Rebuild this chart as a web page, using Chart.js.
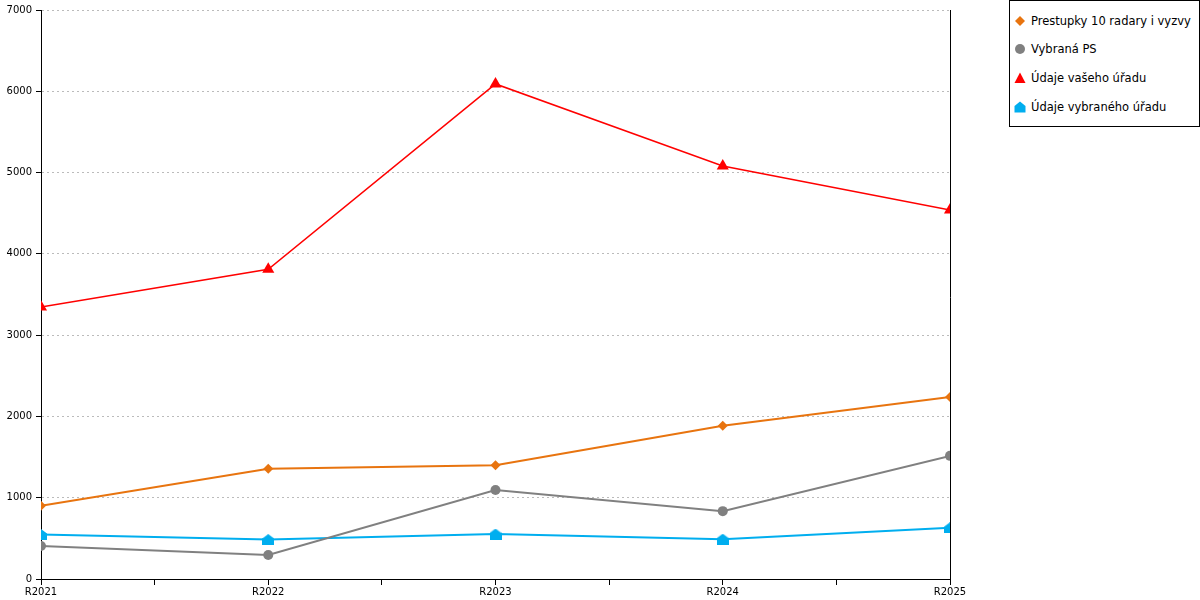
<!DOCTYPE html>
<html>
<head>
<meta charset="utf-8">
<script src="https://cdn.jsdelivr.net/npm/chart.js@4.4.1/dist/chart.umd.min.js"></script>
<style>
html,body{margin:0;padding:0;background:#fff;}
#wrap{position:relative;width:1200px;height:600px;}
#legend{position:absolute;left:1009px;top:0;width:189px;height:125px;border:1px solid #000;background:#fff;font-family:'DejaVu Sans',sans-serif;font-size:11.5px;color:#000;}
.item{position:absolute;left:4px;height:16px;line-height:16px;white-space:nowrap;}
.item svg{position:absolute;left:0;top:2px;}
.item span{position:absolute;left:17px;top:0;}
</style>
</head>
<body>
<div id="wrap">
<canvas id="c" width="1200" height="600"></canvas>
<div id="legend"></div>
</div>
<script>
const categories = ['R2021', 'R2022', 'R2023', 'R2024', 'R2025'];
const seriesNames = ['Prestupky 10 radary i vyzvy', 'Vybraná PS', 'Údaje vašeho úřadu', 'Údaje vybraného úřadu'];
const prestupky = [900, 1355, 1400, 1885, 2240];
const vybranaPS = [405, 295, 1095, 835, 1515];
const vasUrad = [3345, 3810, 6090, 5080, 4540];
const vybranyUrad = [548, 485, 553, 490, 630];
const yTicks = [0, 1000, 2000, 3000, 4000, 5000, 6000, 7000];

const colors = ['#E8740F', '#808080', '#FF0000', '#00AEEF'];

function houseCanvas(color) {
  const cv = document.createElement('canvas');
  cv.width = 12; cv.height = 11;
  const g = cv.getContext('2d');
  g.fillStyle = color;
  g.beginPath();
  g.moveTo(0, 4.5); g.lineTo(6, 0); g.lineTo(12, 4.5); g.lineTo(12, 11); g.lineTo(0, 11);
  g.closePath(); g.fill();
  return cv;
}
const house = houseCanvas(colors[3]);

function toPts(arr) { return arr.map((v, i) => ({x: i, y: v})); }

const seriesData = [prestupky, vybranaPS, vasUrad, vybranyUrad];
const styles = [
  {pointStyle: 'rectRot', radius: 5, width: 2},
  {pointStyle: 'circle', radius: 5, width: 2},
  {pointStyle: 'triangle', radius: 7, width: 1.5},
  {pointStyle: house, radius: 6, width: 2}
];

const datasets = seriesData.map((arr, i) => ({
  label: seriesNames[i],
  data: toPts(arr),
  borderColor: colors[i],
  backgroundColor: colors[i],
  pointBackgroundColor: colors[i],
  pointBorderColor: colors[i],
  pointBorderWidth: 0,
  borderWidth: styles[i].width,
  pointStyle: styles[i].pointStyle,
  pointRadius: styles[i].radius,
  pointHoverRadius: styles[i].radius,
  tension: 0,
  fill: false
}));

const rightBorder = {
  id: 'rightBorder',
  beforeDatasetsDraw(chart) {
    const {ctx, chartArea} = chart;
    ctx.save();
    ctx.strokeStyle = '#000';
    ctx.lineWidth = 1;
    ctx.beginPath();
    const x = Math.round(chartArea.right) + 0.5;
    ctx.moveTo(x, chartArea.top);
    ctx.lineTo(x, chartArea.bottom + 6);
    ctx.stroke();
    ctx.restore();
  }
};

Chart.defaults.font.family = "'DejaVu Sans', sans-serif";
Chart.defaults.font.size = 10;
Chart.defaults.color = '#000';

new Chart(document.getElementById('c'), {
  type: 'line',
  data: {datasets},
  options: {
    responsive: false,
    animation: false,
    devicePixelRatio: 1,
    layout: {padding: {left: 0, right: 250, top: 10, bottom: 0}},
    plugins: {legend: {display: false}, tooltip: {enabled: false}},
    scales: {
      x: {
        type: 'linear',
        min: 0,
        max: categories.length - 1,
        afterBuildTicks(scale) {
          const t = [];
          for (let v = 0; v <= categories.length - 1; v += 0.5) t.push({value: v});
          scale.ticks = t;
        },
        afterFit(scale) { scale.height = 21; },
        ticks: {
          autoSkip: false,
          maxRotation: 0,
          padding: 1,
          callback: (v) => Number.isInteger(v) ? categories[v] : ''
        },
        grid: {drawOnChartArea: false, color: '#000', tickLength: 6},
        border: {color: '#000', width: 1}
      },
      y: {
        min: 0,
        max: 7000,
        afterBuildTicks(scale) { scale.ticks = yTicks.map(v => ({value: v})); },
        afterFit(scale) { scale.width = 41; },
        ticks: {padding: 4, callback: (v) => String(v)},
        grid: {color: '#BBBBBB', tickColor: '#000', tickLength: 5, tickBorderDash: []},
        border: {color: '#000', width: 1, dash: [2, 3]}
      }
    }
  },
  plugins: [rightBorder]
});

// HTML legend
const legend = document.getElementById('legend');
const tops = [12, 40, 69, 98];
function markerSvg(i) {
  const c = colors[i];
  let shape = '';
  if (i === 0) shape = `<polygon points="6,1 11,6 6,11 1,6" fill="${c}"/>`;
  else if (i === 1) shape = `<circle cx="6" cy="6" r="5" fill="${c}"/>`;
  else if (i === 2) shape = `<polygon points="6,0.5 11.5,11 0.5,11" fill="${c}"/>`;
  else shape = `<polygon points="0.5,5 6,0.5 11.5,5 11.5,11.5 0.5,11.5" fill="${c}"/>`;
  return `<svg width="12" height="12" viewBox="0 0 12 12">${shape}</svg>`;
}
seriesNames.forEach((n, i) => {
  const d = document.createElement('div');
  d.className = 'item';
  d.style.top = tops[i] + 'px';
  d.innerHTML = markerSvg(i) + '<span></span>';
  d.querySelector('span').textContent = n;
  legend.appendChild(d);
});
</script>
</body>
</html>
